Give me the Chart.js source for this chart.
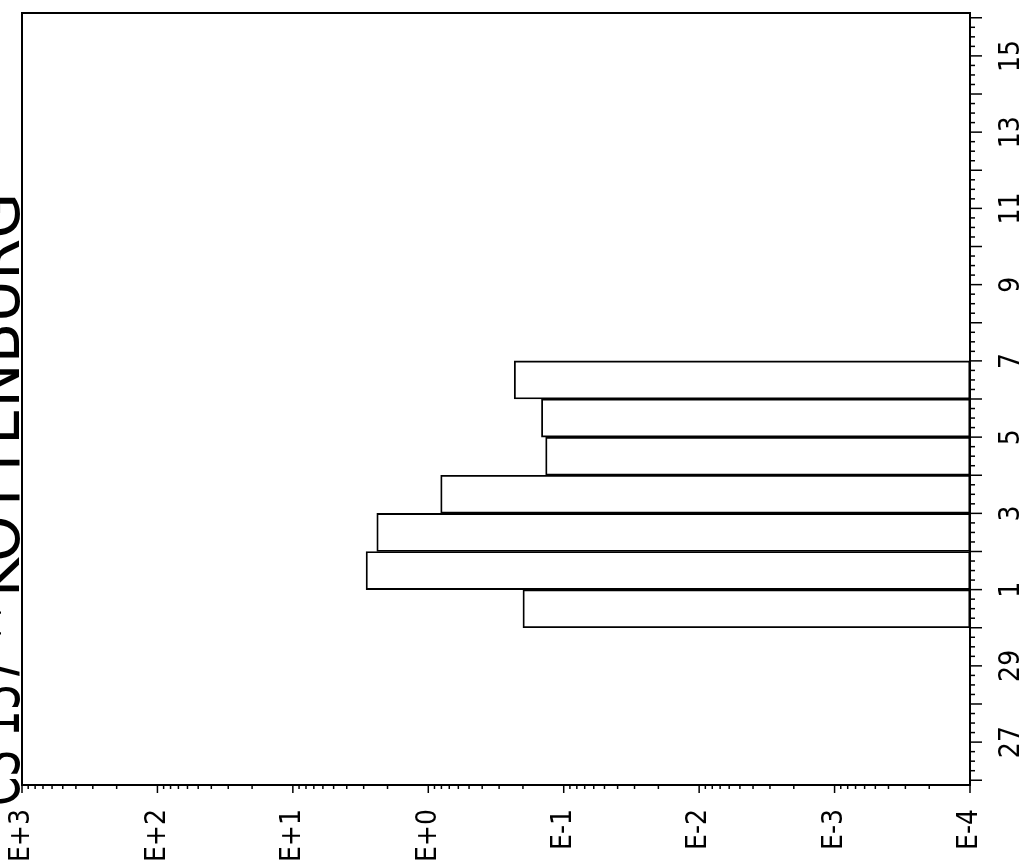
<!DOCTYPE html>
<html>
<head>
<meta charset="utf-8">
<script src="https://cdn.jsdelivr.net/npm/chart.js@4/dist/chart.umd.min.js"></script>
<style>
  html, body { margin: 0; padding: 0; background: #fff; }
  #wrap { width: 1025px; height: 863px; position: relative; }
</style>
</head>
<body>
<div id="wrap"><canvas id="c" width="1025" height="863"></canvas></div>
<script>
// ---- data ----
const titleParts = ["CS 137 **", "KOTTENBURG"];
// days counted from April 0 (31 = May 1); each bar covers one day
const dayLabels = ["Apr 30", "May 1", "May 2", "May 3", "May 4", "May 5", "May 6"];
const dayCenters = [30.5, 31.5, 32.5, 33.5, 34.5, 35.5, 36.5];
const cs137Values = [0.20, 2.88, 2.40, 0.81, 0.136, 0.146, 0.232];
const barBase = 1e-4;
const dayAxisMin = 26;   // April 26
const dayAxisMax = 46;   // May 16
const daysInApril = 30;
const logMinExp = -4;
const logMaxExp = 3;

const FONT = '"DejaVu Sans Condensed", "Liberation Sans Narrow", "Liberation Sans", sans-serif';
Chart.defaults.color = '#000';

const points = dayCenters.map((c, i) => ({ y: c, x: [barBase, cs137Values[i]], label: dayLabels[i] }));

function isPow10(v) {
  const l = Math.log10(v);
  return Math.abs(l - Math.round(l)) < 1e-9;
}

function noPad(scale) {
  scale.paddingTop = 0; scale.paddingBottom = 0;
  scale.paddingLeft = 0; scale.paddingRight = 0;
}

// title layout: [start y (bottom), end y (top)] for each part, baseline x
const titleSpans = [[806, 602], [597, 193]];
const titleBaselineX = 19;

const framePlugin = {
  id: 'frame',
  afterDraw(chart) {
    const { ctx, chartArea: a, scales } = chart;
    ctx.save();
    ctx.strokeStyle = '#000';
    const xs = scales.x;
    ctx.lineWidth = 1.5;
    xs.ticks.forEach(t => {
      const px = xs.getPixelForValue(t.value);
      const len = isPow10(t.value) ? 8 : 4;
      ctx.beginPath();
      ctx.moveTo(px, a.bottom);
      ctx.lineTo(px, a.bottom + len);
      ctx.stroke();
    });
    const ys = scales.y;
    ys.ticks.forEach(t => {
      const py = ys.getPixelForValue(t.value);
      const len = Number.isInteger(t.value) ? 12 : 5;
      ctx.beginPath();
      ctx.moveTo(a.right, py);
      ctx.lineTo(a.right + len, py);
      ctx.stroke();
    });
    ctx.lineWidth = 2;
    ctx.strokeRect(a.left, a.top, a.right - a.left, a.bottom - a.top);
    ctx.restore();

    // title (rotated, partly cut by the page edge)
    titleParts.forEach((txt, i) => {
      const [y0, y1] = titleSpans[i];
      ctx.save();
      ctx.fillStyle = '#000';
      ctx.font = '62px ' + FONT;
      const w = ctx.measureText(txt).width;
      ctx.translate(titleBaselineX, y0);
      ctx.rotate(-Math.PI / 2);
      ctx.scale((y0 - y1) / w, 1);
      ctx.textBaseline = 'alphabetic';
      ctx.textAlign = 'left';
      ctx.fillText(txt, 0, 0);
      ctx.restore();
    });
  }
};

new Chart(document.getElementById('c'), {
  type: 'bar',
  data: {
    datasets: [{
      data: points,
      backgroundColor: 'rgba(255,255,255,0)',
      borderColor: '#000',
      borderWidth: 1.2,
      borderSkipped: false,
      barThickness: 'flex',
      barPercentage: 1,
      categoryPercentage: 1
    }]
  },
  options: {
    responsive: false,
    animation: false,
    indexAxis: 'y',
    layout: { padding: { left: 22, top: 13, right: 0, bottom: 0 } },
    plugins: { legend: { display: false }, tooltip: { enabled: false }, title: { display: false } },
    scales: {
      x: {
        type: 'logarithmic',
        position: 'bottom',
        reverse: true,
        min: Math.pow(10, logMinExp),
        max: Math.pow(10, logMaxExp),
        grid: { display: false, drawTicks: false },
        border: { display: false },
        afterBuildTicks(scale) {
          const t = [];
          for (let e = logMinExp; e < logMaxExp; e++) {
            for (let m = 1; m <= 9; m++) t.push({ value: m * Math.pow(10, e) });
          }
          t.push({ value: Math.pow(10, logMaxExp) });
          scale.ticks = t;
        },
        afterFit(scale) { scale.height = 78; noPad(scale); },
        ticks: {
          autoSkip: false,
          minRotation: 90,
          maxRotation: 90,
          padding: 24,
          font: { family: FONT, size: 28 },
          color: '#000',
          callback(value) {
            if (!isPow10(value)) return '';
            const e = Math.round(Math.log10(value));
            return 'E' + (e >= 0 ? '+' : '-') + Math.abs(e);
          }
        }
      },
      y: {
        type: 'linear',
        position: 'right',
        min: dayAxisMin,
        max: dayAxisMax,
        grid: { display: false, drawTicks: false },
        border: { display: false },
        afterBuildTicks(scale) {
          const t = [];
          for (let q = dayAxisMin * 4; q <= dayAxisMax * 4; q++) t.push({ value: q / 4 });
          scale.ticks = t;
        },
        afterFit(scale) { scale.width = 55; noPad(scale); },
        ticks: {
          autoSkip: false,
          minRotation: 90,
          maxRotation: 90,
          crossAlign: 'center',
          padding: 26,
          font: { family: FONT, size: 28 },
          color: '#000',
          callback(value) {
            if (!Number.isInteger(value) || value % 2 === 0) return '';
            return String(value > daysInApril ? value - daysInApril : value);
          }
        }
      }
    }
  },
  plugins: [framePlugin]
});
</script>
</body>
</html>
